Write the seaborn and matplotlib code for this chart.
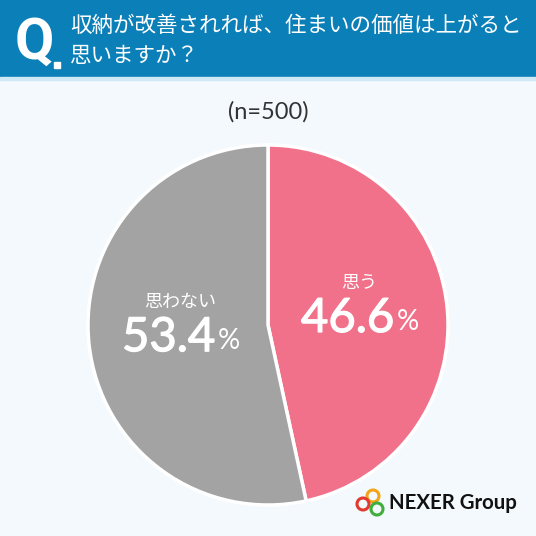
import numpy as np
import seaborn as sns
import matplotlib.pyplot as plt
import matplotlib.patheffects as pe
from matplotlib.patches import Circle, Rectangle

# data
labels = ['思う', '思わない']
values = [46.6, 53.4]
colors = ['#f07189', '#a3a3a3']
question = ['収納が改善されれば、住まいの価値は上がると', '思いますか？']
n_text = '(n=500)'

sns.set_theme(style='white')
plt.rcParams['font.family'] = ['Noto Sans CJK JP', 'DejaVu Sans']

bg = '#f3f9fd'
fig = plt.figure(figsize=(5.36, 5.36), dpi=100, facecolor=bg)

# header band
fig.patches.append(Rectangle((0, 1 - 77 / 536), 1, 77 / 536, transform=fig.transFigure,
                             color='#0b7fb8', zorder=0))
fig.patches.append(Rectangle((0, 1 - 80 / 536), 1, 3 / 536, transform=fig.transFigure,
                             color='#cfe9f7', zorder=0))
fig.text(15 / 536, 1 - 43 / 536, 'Q', color='white', fontsize=41, fontweight='bold',
         family=['Roboto', 'DejaVu Sans'], va='center', ha='left')
fig.patches.append(Rectangle((54 / 536, 1 - 68 / 536), 6 / 536, 6 / 536,
                             transform=fig.transFigure, color='white'))
fig.text(70 / 536, 1 - 26 / 536, question[0], color='white', fontsize=15.5, va='center', ha='left')
fig.text(70 / 536, 1 - 56 / 536, question[1], color='white', fontsize=15.5, va='center', ha='left')

fig.text(0.5, 1 - 112 / 536, n_text, color='#333333', fontsize=17,
         family=['Lato', 'DejaVu Sans'], ha='center', va='center')

# pie
r = 180 / 536
ax = fig.add_axes([0.5 - r, (1 - 325 / 536) - r, 2 * r, 2 * r])
ax.set_facecolor(bg)
wedges, _ = ax.pie(values, colors=colors, startangle=90, counterclock=False,
                   wedgeprops=dict(edgecolor='white', linewidth=2.5))
ax.set_xlim(-1, 1)
ax.set_ylim(-1, 1)
ax.set_aspect('equal')
ax.axis('off')

thick = [pe.withStroke(linewidth=0.9, foreground='white')]
start = 90.0
for lab, val in zip(labels, values):
    mid = np.deg2rad(start - val / 100 * 360 / 2)
    start -= val / 100 * 360
    x, y = 0.5 * np.cos(mid), 0.5 * np.sin(mid)
    ax.text(x + 0.01, y + 0.18, lab, color='white', fontsize=13, ha='center', va='center')
    num = ax.text(x - 0.055, y - 0.02, f'{val:.1f}', color='white', fontsize=34,
                  ha='center', va='center', family=['Lato', 'DejaVu Sans'], path_effects=thick)
    ax.annotate('%', xy=(1, 0.12), xycoords=num, xytext=(2, 0), textcoords='offset points',
                color='white', fontsize=20, ha='left', va='bottom',
                family=['Lato', 'DejaVu Sans'])

# logo
for cx, cy, c in [(373, 496, '#f2a516'), (363, 504, '#e23b2e'), (377, 509, '#3fae3a')]:
    fig.patches.append(Circle((cx / 536, 1 - cy / 536), 6 / 536, transform=fig.transFigure,
                              fill=False, edgecolor=c, linewidth=2.2))
fig.text(389 / 536, 1 - 503 / 536, 'NEXER Group', color='#111111', fontsize=14.7,
         fontweight='bold', family=['Lato', 'DejaVu Sans'], ha='left', va='center')

fig.savefig('out.png', dpi=100, facecolor=bg)
